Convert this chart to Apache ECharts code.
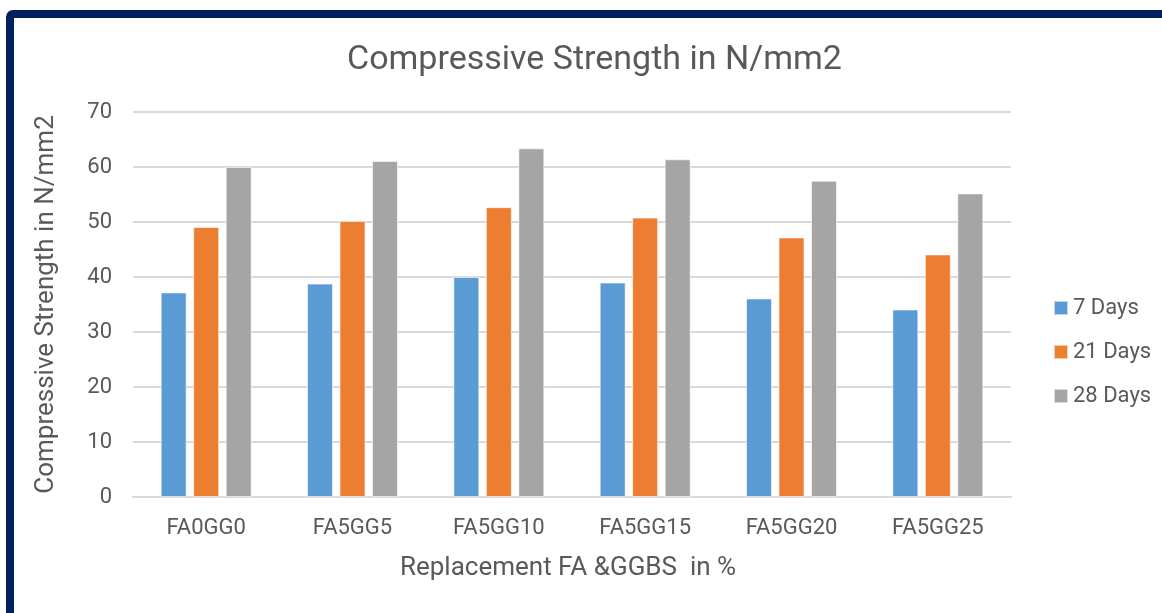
<!DOCTYPE html>
<html>
<head>
<meta charset="utf-8">
<script src="https://cdn.jsdelivr.net/npm/echarts@6/dist/echarts.min.js"></script>
<style>
  html, body { margin: 0; padding: 0; background: #fff; }
  #chart { width: 1162px; height: 613px; }
</style>
</head>
<body>
<div id="chart"></div>
<script>
var categories = ['FA0GG0', 'FA5GG5', 'FA5GG10', 'FA5GG15', 'FA5GG20', 'FA5GG25'];
var days7 = [37.2, 38.8, 40.0, 39.0, 36.1, 34.1];
var days21 = [49.1, 50.2, 52.7, 50.8, 47.2, 44.1];
var days28 = [60.0, 61.1, 63.4, 61.4, 57.5, 55.2];
var seriesNames = ['7 Days', '21 Days', '28 Days'];

var font = 'Roboto, sans-serif';
var colors = ['#5b9bd5', '#ed7d31', '#a5a5a5'];

var chart = echarts.init(document.getElementById('chart'));

var option = {
  color: colors,
  animation: false,
  title: {
    text: 'Compressive Strength in N/mm2',
    left: 342,
    top: 38,
    textStyle: { color: '#595959', fontSize: 34, fontWeight: 'normal', fontFamily: font }
  },
  legend: {
    orient: 'vertical',
    left: 1048,
    top: 292,
    itemWidth: 14,
    itemHeight: 14,
    itemGap: 22,
    icon: 'rect',
    textStyle: { color: '#595959', fontSize: 22, fontFamily: font },
    data: seriesNames
  },
  grid: { left: 133, right: 151, top: 112, bottom: 116 },
  xAxis: {
    type: 'category',
    data: categories,
    name: 'Replacement FA &GGBS  in %',
    nameLocation: 'middle',
    nameGap: 58,
    nameTextStyle: { color: '#595959', fontSize: 26, fontFamily: font, padding: [0, 8, 0, 0] },
    axisTick: { show: false },
    axisLine: { lineStyle: { color: '#d9d9d9', width: 2 } },
    axisLabel: { color: '#595959', fontSize: 22, fontFamily: font, margin: 20 }
  },
  yAxis: {
    type: 'value',
    min: 0,
    max: 70,
    interval: 10,
    name: 'Compressive Strength in N/mm2',
    nameLocation: 'middle',
    nameGap: 74,
    nameTextStyle: { color: '#595959', fontSize: 26, fontFamily: font, padding: [0, 0, 0, 0] },
    axisLine: { show: false },
    axisTick: { show: false },
    axisLabel: { color: '#595959', fontSize: 22, fontFamily: font, margin: 21 },
    splitLine: { lineStyle: { color: '#d9d9d9', width: 2 } }
  },
  series: [
    { name: seriesNames[0], type: 'bar', data: days7 },
    { name: seriesNames[1], type: 'bar', data: days21 },
    { name: seriesNames[2], type: 'bar', data: days28 }
  ].map(function (s) {
    s.barWidth = 26;
    s.barGap = '25%';
    s.itemStyle = { borderColor: 'rgba(255,255,255,0.6)', borderWidth: 1 };
    return s;
  }),
  graphic: [{
    type: 'rect',
    shape: { x: 10, y: 14, width: 1300, height: 800, r: 3 },
    style: { fill: null, stroke: '#002060', lineWidth: 8 },
    z: 100
  }]
};

chart.setOption(option);
</script>
</body>
</html>
